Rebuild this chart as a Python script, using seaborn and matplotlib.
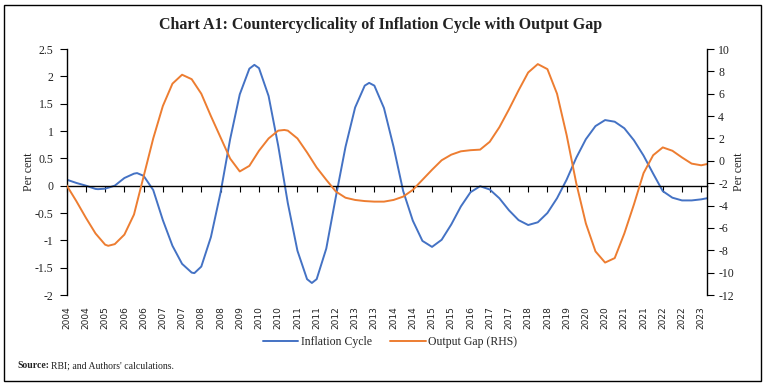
import numpy as np
import pandas as pd
import matplotlib
matplotlib.use("Agg")
import matplotlib.pyplot as plt
import seaborn as sns
from matplotlib.patches import Rectangle

# ---- data (x in units of label steps) ----
inflation_period = [
    0.0, 0.5, 1.0, 1.5, 1.63, 2.0, 2.5, 3.0, 3.5, 3.66,
    4.0, 4.5, 5.0, 5.5, 6.0, 6.5, 6.64, 7.0, 7.5, 8.0,
    8.5, 9.0, 9.5, 9.76, 10.0, 10.5, 11.0, 11.5, 12.0, 12.5,
    12.75, 13.0, 13.5, 14.0, 14.5, 15.0, 15.5, 15.73, 16.0, 16.5,
    17.0, 17.5, 18.0, 18.5, 19.0, 19.5, 20.0, 20.5, 21.0, 21.5,
    22.0, 22.5, 23.0, 23.5, 24.0, 24.5, 25.0, 25.5, 26.0, 26.5,
    27.0, 27.5, 28.0, 28.5, 29.0, 29.5, 30.0, 30.5, 31.0, 31.5,
    32.0, 32.5, 33.0, 33.3,
]
inflation_cycle = [
    0.11, 0.05, 0.00, -0.06, -0.064, -0.055, 0.00, 0.14, 0.22, 0.23,
    0.18, -0.08, -0.63, -1.10, -1.43, -1.59, -1.60, -1.48, -0.94, -0.13,
    0.85, 1.67, 2.14, 2.21, 2.15, 1.64, 0.73, -0.32, -1.19, -1.71,
    -1.78, -1.71, -1.15, -0.20, 0.71, 1.43, 1.83, 1.88, 1.83, 1.42,
    0.71, -0.10, -0.64, -1.01, -1.12, -0.99, -0.71, -0.38, -0.12, -0.01,
    -0.07, -0.23, -0.45, -0.63, -0.72, -0.67, -0.50, -0.23, 0.11, 0.51,
    0.85, 1.09, 1.20, 1.17, 1.05, 0.83, 0.55, 0.22, -0.10, -0.22,
    -0.27, -0.27, -0.25, -0.23,
]

gap_period = [
    0.0, 0.5, 1.0, 1.5, 2.0, 2.16, 2.5, 3.0, 3.5, 4.0,
    4.5, 5.0, 5.5, 6.0, 6.5, 7.0, 7.5, 8.0, 8.5, 9.0,
    9.5, 10.0, 10.5, 11.0, 11.32, 11.5, 12.0, 12.5, 13.0, 13.5,
    14.0, 14.5, 15.0, 15.5, 16.0, 16.5, 17.0, 17.5, 18.0, 18.5,
    19.0, 19.5, 20.0, 20.5, 21.0, 21.5, 22.0, 22.5, 23.0, 23.5,
    24.0, 24.5, 25.0, 25.5, 26.0, 26.5, 27.0, 27.5, 28.0, 28.5,
    29.0, 29.5, 30.0, 30.5, 31.0, 31.5, 32.0, 32.5, 33.0, 33.3,
]
output_gap = [
    -2.2, -3.6, -5.1, -6.5, -7.5, -7.6, -7.45, -6.6, -4.8, -1.4,
    2.0, 4.9, 6.9, 7.7, 7.3, 6.0, 4.0, 2.1, 0.2, -0.95,
    -0.45, 0.9, 2.0, 2.7, 2.76, 2.7, 2.0, 0.75, -0.6, -1.7,
    -2.75, -3.3, -3.5, -3.6, -3.65, -3.65, -3.5, -3.2, -2.6, -1.7,
    -0.8, 0.05, 0.55, 0.85, 0.95, 1.0, 1.7, 3.0, 4.6, 6.3,
    7.9, 8.65, 8.2, 6.0, 2.3, -2.0, -5.6, -8.1, -9.1, -8.7,
    -6.5, -3.9, -1.1, 0.5, 1.2, 0.9, 0.3, -0.25, -0.4, -0.29,
]

tick_labels = [
    "2004", "2004", "2005", "2006", "2006", "2007", "2007", "2008", "2008", "2009",
    "2010", "2010", "2011", "2011", "2012", "2013", "2013", "2014", "2014", "2015",
    "2015", "2016", "2017", "2017", "2018", "2018", "2019", "2020", "2020", "2021",
    "2021", "2022", "2022", "2023",
]

left_ticks = [-2, -1.5, -1, -0.5, 0, 0.5, 1, 1.5, 2, 2.5]
right_ticks = [-12, -10, -8, -6, -4, -2, 0, 2, 4, 6, 8, 10]

title = "Chart A1: Countercyclicality of Inflation Cycle with Output Gap"
blue = "#4472C4"
orange = "#ED7D31"

# ---- style ----
sns.set_theme(style="white")
plt.rcParams["font.family"] = ["Liberation Serif", "DejaVu Serif"]

W, H = 766, 387
fig = plt.figure(figsize=(W / 100, H / 100), dpi=100)
x0, x1, ytop, ybot = 66.7, 707, 49, 295
ax = fig.add_axes([x0 / W, 1 - ybot / H, (x1 - x0) / W, (ybot - ytop) / H])

df_inf = pd.DataFrame({"period": inflation_period, "value": inflation_cycle})
df_gap = pd.DataFrame({"period": gap_period, "value": output_gap})

sns.lineplot(data=df_inf, x="period", y="value", ax=ax,
             color=blue, linewidth=1.4, legend=False)
ax2 = ax.twinx()
sns.lineplot(data=df_gap, x="period", y="value", ax=ax2,
             color=orange, linewidth=1.4, legend=False)
for ln in ax.get_lines() + ax2.get_lines():
    ln.set_solid_joinstyle("round")

ax.set_xlim(0, 33.3)
ax.set_ylim(-2, 2.5)
ax2.set_ylim(-12, 10)
ax.set_xlabel("")
ax.set_ylabel("")
ax2.set_ylabel("")

# spines
for s in ["top", "right"]:
    ax.spines[s].set_visible(False)
for s in ["top", "left", "bottom"]:
    ax2.spines[s].set_visible(False)
ax.spines["bottom"].set_position(("data", 0))
for sp in [ax.spines["bottom"], ax.spines["left"], ax2.spines["right"]]:
    sp.set_color("black")
    sp.set_linewidth(1.0)

# ticks
ax.set_xticks(range(len(tick_labels)))
ax.tick_params(axis="x", bottom=True, direction="out", length=4, width=0.8,
               color="black", labelbottom=False)
ax.set_yticks(left_ticks)
ax.set_yticklabels([f"{v:g}" for v in left_ticks])
ax.tick_params(axis="y", left=True, direction="out", length=5, width=0.8,
               color="black", pad=4.5, labelsize=8.5, labelcolor="#222222")
ax2.set_yticks(right_ticks)
ax2.set_yticklabels([f"{v:g}" for v in right_ticks])
ax2.tick_params(axis="y", right=True, direction="out", length=5, width=0.8,
                color="black", pad=3, labelsize=8.5, labelcolor="#222222")

sec = ax.secondary_xaxis("bottom")
sec.set_xticks(range(len(tick_labels)))
sec.set_xticklabels(tick_labels)
sec.tick_params(axis="x", length=0, pad=8, labelsize=6.5, labelrotation=90,
                labelcolor="#222222")
sec.spines["bottom"].set_visible(False)
for lbl in sec.get_xticklabels():
    lbl.set_fontfamily("DejaVu Sans")

# axis titles
fig.text(29 / W, 1 - 172 / H, "Per cent", rotation=90, ha="center", va="center",
         fontsize=8.5, color="#222222")
fig.text(739 / W, 1 - 172 / H, "Per cent", rotation=90, ha="center", va="center",
         fontsize=8.5, color="#222222")

# title
fig.text(381 / W, 1 - 25 / H, title, ha="center", va="center",
         fontsize=11.5, fontweight="bold", color="#222222")

# legend
handles = [ax.get_lines()[0], ax2.get_lines()[0]]
fig.legend(handles, ["Inflation Cycle", "Output Gap (RHS)"], loc="center",
           bbox_to_anchor=(390 / W, 1 - 342 / H), ncol=2, frameon=False,
           fontsize=8.5, handlelength=3.0, handletextpad=0.2, columnspacing=1.6)

# source
t1 = fig.text(17 / W, 1 - 366 / H, "Source:", fontsize=7, fontweight="bold",
              ha="left", va="center", color="#222222")
fig.canvas.draw()
bb = t1.get_window_extent(renderer=fig.canvas.get_renderer())
fig.text(bb.x1 / W + 2 / W, 1 - 366 / H, "RBI; and Authors' calculations.",
         fontsize=7, ha="left", va="center", color="#222222")

# border
fig.patches.append(Rectangle((4 / W, 1 - 381 / H), (761 - 4) / W, (381 - 5) / H,
                             transform=fig.transFigure, fill=False,
                             edgecolor="black", linewidth=1.0))

fig.savefig("out.png", dpi=100)
